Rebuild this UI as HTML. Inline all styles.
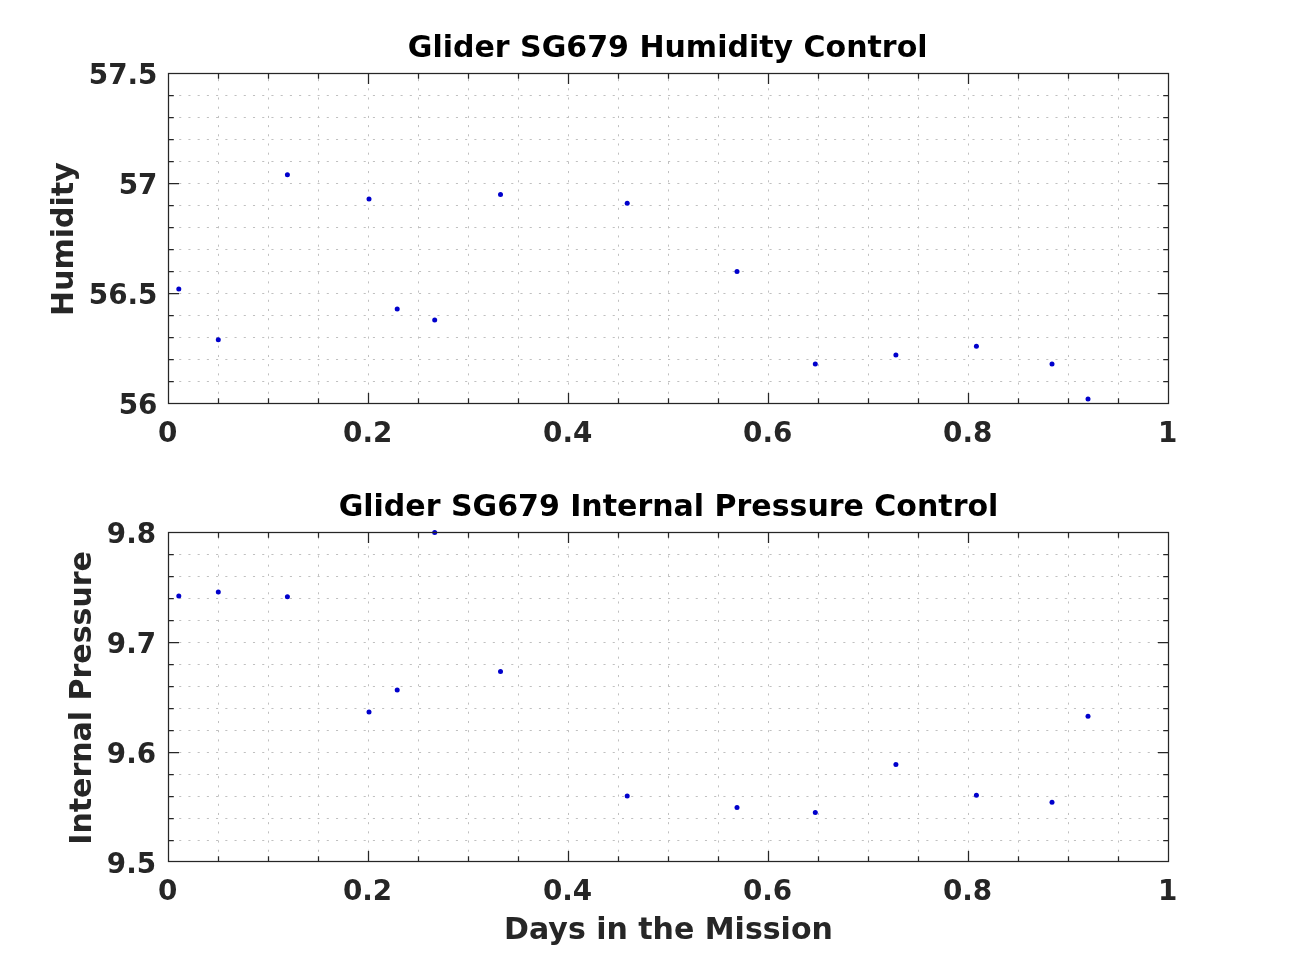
<!DOCTYPE html>
<html lang="en"><head><meta charset="utf-8"><title>Glider SG679 Humidity and Internal Pressure Control</title>
<style>
html,body{margin:0;padding:0;background:#fff;}
body{width:1291px;height:968px;overflow:hidden;}
svg{display:block;font-family:"DejaVu Sans","Liberation Sans",sans-serif;font-weight:bold;}
.gh{fill:none;stroke:#c0c0c0;stroke-width:1;stroke-dasharray:2.1 7.124;stroke-dashoffset:-1.45;}
.gv{fill:none;stroke:#c0c0c0;stroke-width:1;stroke-dasharray:2.1 7.095;stroke-dashoffset:-0.5;}
.tk{fill:none;stroke:#262626;stroke-width:1.25;}
.bx{fill:none;stroke:#262626;stroke-width:1.25;}
circle{fill:#0000cc;}
.ti{font-size:30.0px;fill:#000;}
.tl{font-size:27.8px;fill:#262626;}
.lb{font-size:30.0px;fill:#262626;}
</style></head>
<body>
<svg width="1291" height="968" viewBox="0 0 1291 968">
<rect width="1291" height="968" fill="#fff"/>
<g id="ax1">
<path d="M168.5 95.50H1168.5M168.5 117.50H1168.5M168.5 139.50H1168.5M168.5 161.50H1168.5M168.5 183.50H1168.5M168.5 205.50H1168.5M168.5 227.50H1168.5M168.5 249.50H1168.5M168.5 271.50H1168.5M168.5 293.50H1168.5M168.5 315.50H1168.5M168.5 337.50H1168.5M168.5 359.50H1168.5M168.5 381.50H1168.5" class="gh"/>
<path d="M218.5 403.5V73.5M268.5 403.5V73.5M318.5 403.5V73.5M368.5 403.5V73.5M418.5 403.5V73.5M468.5 403.5V73.5M518.5 403.5V73.5M568.5 403.5V73.5M618.5 403.5V73.5M668.5 403.5V73.5M718.5 403.5V73.5M768.5 403.5V73.5M818.5 403.5V73.5M868.5 403.5V73.5M918.5 403.5V73.5M968.5 403.5V73.5M1018.5 403.5V73.5M1068.5 403.5V73.5M1118.5 403.5V73.5" class="gv"/>
<circle cx="178.8" cy="289.1" r="2.5"/>
<circle cx="218.3" cy="339.7" r="2.5"/>
<circle cx="287.4" cy="174.7" r="2.5"/>
<circle cx="369.0" cy="198.9" r="2.5"/>
<circle cx="397.2" cy="308.9" r="2.5"/>
<circle cx="434.7" cy="319.9" r="2.5"/>
<circle cx="500.5" cy="194.5" r="2.5"/>
<circle cx="627.2" cy="203.3" r="2.5"/>
<circle cx="737.0" cy="271.5" r="2.5"/>
<circle cx="815.3" cy="363.9" r="2.5"/>
<circle cx="895.9" cy="355.1" r="2.5"/>
<circle cx="976.4" cy="346.3" r="2.5"/>
<circle cx="1052.0" cy="363.9" r="2.5"/>
<circle cx="1088.0" cy="399.1" r="2.5"/>
<path d="M218.5 403.5v-5.3M218.5 73.5v5.3M268.5 403.5v-5.3M268.5 73.5v5.3M318.5 403.5v-5.3M318.5 73.5v5.3M368.5 403.5v-10.5M368.5 73.5v10.5M418.5 403.5v-5.3M418.5 73.5v5.3M468.5 403.5v-5.3M468.5 73.5v5.3M518.5 403.5v-5.3M518.5 73.5v5.3M568.5 403.5v-10.5M568.5 73.5v10.5M618.5 403.5v-5.3M618.5 73.5v5.3M668.5 403.5v-5.3M668.5 73.5v5.3M718.5 403.5v-5.3M718.5 73.5v5.3M768.5 403.5v-10.5M768.5 73.5v10.5M818.5 403.5v-5.3M818.5 73.5v5.3M868.5 403.5v-5.3M868.5 73.5v5.3M918.5 403.5v-5.3M918.5 73.5v5.3M968.5 403.5v-10.5M968.5 73.5v10.5M1018.5 403.5v-5.3M1018.5 73.5v5.3M1068.5 403.5v-5.3M1068.5 73.5v5.3M1118.5 403.5v-5.3M1118.5 73.5v5.3M168.5 95.50h5.3M1168.5 95.50h-5.3M168.5 117.50h5.3M1168.5 117.50h-5.3M168.5 139.50h5.3M1168.5 139.50h-5.3M168.5 161.50h5.3M1168.5 161.50h-5.3M168.5 183.50h10.5M1168.5 183.50h-10.5M168.5 205.50h5.3M1168.5 205.50h-5.3M168.5 227.50h5.3M1168.5 227.50h-5.3M168.5 249.50h5.3M1168.5 249.50h-5.3M168.5 271.50h5.3M1168.5 271.50h-5.3M168.5 293.50h10.5M1168.5 293.50h-10.5M168.5 315.50h5.3M1168.5 315.50h-5.3M168.5 337.50h5.3M1168.5 337.50h-5.3M168.5 359.50h5.3M1168.5 359.50h-5.3M168.5 381.50h5.3M1168.5 381.50h-5.3" class="tk"/>
<rect x="168.5" y="73.5" width="1000.0" height="330.0" class="bx"/>
</g>
<g id="ax2">
<path d="M168.5 554.50H1168.5M168.5 576.50H1168.5M168.5 598.50H1168.5M168.5 620.50H1168.5M168.5 642.50H1168.5M168.5 664.50H1168.5M168.5 686.50H1168.5M168.5 708.50H1168.5M168.5 730.50H1168.5M168.5 752.50H1168.5M168.5 774.50H1168.5M168.5 796.50H1168.5M168.5 818.50H1168.5M168.5 840.50H1168.5" class="gh"/>
<path d="M218.5 861.5V532.5M268.5 861.5V532.5M318.5 861.5V532.5M368.5 861.5V532.5M418.5 861.5V532.5M468.5 861.5V532.5M518.5 861.5V532.5M568.5 861.5V532.5M618.5 861.5V532.5M668.5 861.5V532.5M718.5 861.5V532.5M768.5 861.5V532.5M818.5 861.5V532.5M868.5 861.5V532.5M918.5 861.5V532.5M968.5 861.5V532.5M1018.5 861.5V532.5M1068.5 861.5V532.5M1118.5 861.5V532.5" class="gv"/>
<circle cx="178.8" cy="595.9" r="2.5"/>
<circle cx="218.3" cy="591.9" r="2.5"/>
<circle cx="287.4" cy="596.8" r="2.5"/>
<circle cx="369.0" cy="712.1" r="2.5"/>
<circle cx="397.2" cy="690.1" r="2.5"/>
<circle cx="434.7" cy="532.4" r="2.5"/>
<circle cx="500.5" cy="671.5" r="2.5"/>
<circle cx="627.2" cy="796.0" r="2.5"/>
<circle cx="737.0" cy="807.4" r="2.5"/>
<circle cx="815.3" cy="812.4" r="2.5"/>
<circle cx="895.9" cy="764.5" r="2.5"/>
<circle cx="976.4" cy="795.2" r="2.5"/>
<circle cx="1052.0" cy="802.3" r="2.5"/>
<circle cx="1088.0" cy="716.2" r="2.5"/>
<path d="M218.5 861.5v-5.3M218.5 532.5v5.3M268.5 861.5v-5.3M268.5 532.5v5.3M318.5 861.5v-5.3M318.5 532.5v5.3M368.5 861.5v-10.5M368.5 532.5v10.5M418.5 861.5v-5.3M418.5 532.5v5.3M468.5 861.5v-5.3M468.5 532.5v5.3M518.5 861.5v-5.3M518.5 532.5v5.3M568.5 861.5v-10.5M568.5 532.5v10.5M618.5 861.5v-5.3M618.5 532.5v5.3M668.5 861.5v-5.3M668.5 532.5v5.3M718.5 861.5v-5.3M718.5 532.5v5.3M768.5 861.5v-10.5M768.5 532.5v10.5M818.5 861.5v-5.3M818.5 532.5v5.3M868.5 861.5v-5.3M868.5 532.5v5.3M918.5 861.5v-5.3M918.5 532.5v5.3M968.5 861.5v-10.5M968.5 532.5v10.5M1018.5 861.5v-5.3M1018.5 532.5v5.3M1068.5 861.5v-5.3M1068.5 532.5v5.3M1118.5 861.5v-5.3M1118.5 532.5v5.3M168.5 554.50h5.3M1168.5 554.50h-5.3M168.5 576.50h5.3M1168.5 576.50h-5.3M168.5 598.50h5.3M1168.5 598.50h-5.3M168.5 620.50h5.3M1168.5 620.50h-5.3M168.5 642.50h10.5M1168.5 642.50h-10.5M168.5 664.50h5.3M1168.5 664.50h-5.3M168.5 686.50h5.3M1168.5 686.50h-5.3M168.5 708.50h5.3M1168.5 708.50h-5.3M168.5 730.50h5.3M1168.5 730.50h-5.3M168.5 752.50h10.5M1168.5 752.50h-10.5M168.5 774.50h5.3M1168.5 774.50h-5.3M168.5 796.50h5.3M1168.5 796.50h-5.3M168.5 818.50h5.3M1168.5 818.50h-5.3M168.5 840.50h5.3M1168.5 840.50h-5.3" class="tk"/>
<rect x="168.5" y="532.5" width="1000.0" height="329.0" class="bx"/>
</g>
<g id="labels">
<text x="667.7" y="56.6" class="ti" text-anchor="middle">Glider SG679 Humidity Control</text>
<text x="668.5" y="515.6" class="ti" text-anchor="middle">Glider SG679 Internal Pressure Control</text>
<text x="157.4" y="84.3" class="tl" text-anchor="end">57.5</text>
<text x="157.4" y="194.3" class="tl" text-anchor="end">57</text>
<text x="157.4" y="304.3" class="tl" text-anchor="end">56.5</text>
<text x="157.4" y="414.3" class="tl" text-anchor="end">56</text>
<text x="156.1" y="543.1" class="tl" text-anchor="end">9.8</text>
<text x="156.1" y="653.1" class="tl" text-anchor="end">9.7</text>
<text x="156.1" y="763.1" class="tl" text-anchor="end">9.6</text>
<text x="156.1" y="873.1" class="tl" text-anchor="end">9.5</text>
<text x="167.7" y="441.5" class="tl" text-anchor="middle">0</text>
<text x="167.6" y="900" class="tl" text-anchor="middle">0</text>
<text x="367.7" y="441.5" class="tl" text-anchor="middle">0.2</text>
<text x="367.6" y="900" class="tl" text-anchor="middle">0.2</text>
<text x="567.7" y="441.5" class="tl" text-anchor="middle">0.4</text>
<text x="567.6" y="900" class="tl" text-anchor="middle">0.4</text>
<text x="767.7" y="441.5" class="tl" text-anchor="middle">0.6</text>
<text x="767.6" y="900" class="tl" text-anchor="middle">0.6</text>
<text x="967.7" y="441.5" class="tl" text-anchor="middle">0.8</text>
<text x="967.6" y="900" class="tl" text-anchor="middle">0.8</text>
<text x="1167.7" y="441.5" class="tl" text-anchor="middle">1</text>
<text x="1167.6" y="900" class="tl" text-anchor="middle">1</text>
<text x="668.5" y="939" class="lb" text-anchor="middle">Days in the Mission</text>
<text transform="translate(73.1,239.1) rotate(-90)" class="lb" text-anchor="middle">Humidity</text>
<text transform="translate(91.05,697.95) rotate(-90)" class="lb" text-anchor="middle">Internal Pressure</text>
</g>
</svg>
</body></html>
